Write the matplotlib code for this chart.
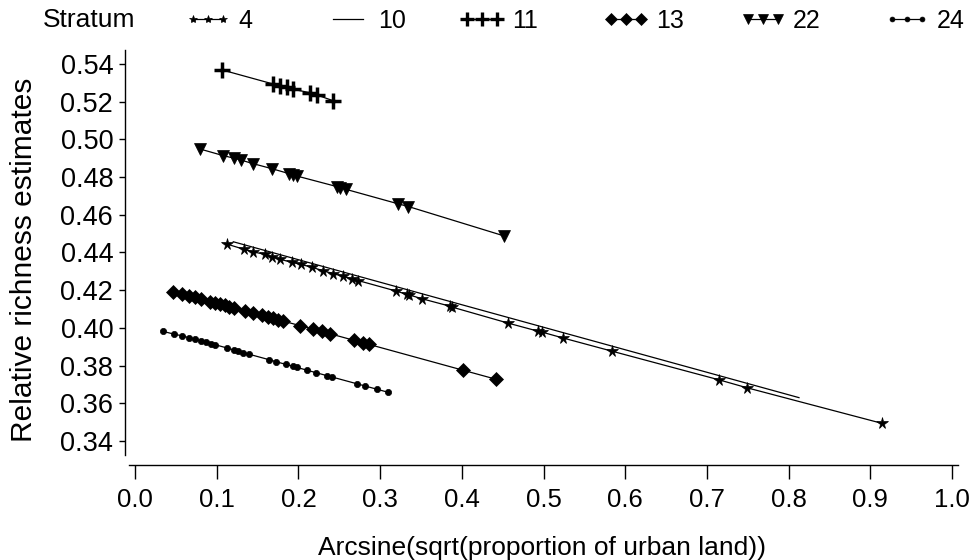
import matplotlib
matplotlib.use("Agg")
import matplotlib.pyplot as plt
from matplotlib.lines import Line2D

# ---------------- data ----------------
strata = ["4", "10", "11", "13", "22", "24"]

x4 = [0.1122, 0.1334, 0.1440, 0.1590, 0.1673, 0.1775, 0.1918, 0.2028, 0.2163,
      0.2297, 0.2427, 0.2550, 0.2652, 0.2733, 0.3191, 0.3325, 0.3357, 0.3509,
      0.3856, 0.3876, 0.4570, 0.4929, 0.4978, 0.5243, 0.5834, 0.7152, 0.7485,
      0.9139]
y4 = [0.4445, 0.4417, 0.4404, 0.4390, 0.4378, 0.4364, 0.4348, 0.4337, 0.4322,
      0.4304, 0.4288, 0.4273, 0.4260, 0.4251, 0.4196, 0.4178, 0.4175, 0.4155,
      0.4115, 0.4111, 0.4025, 0.3983, 0.3978, 0.3946, 0.3877, 0.3724, 0.3683,
      0.3494]

x10 = [0.1203, 0.8127]
y10 = [0.4457, 0.3630]

x11 = [0.107, 0.169, 0.1775, 0.1856, 0.193, 0.214, 0.2224, 0.2427]
y11 = [0.5368, 0.5294, 0.5283, 0.5276, 0.5266, 0.5248, 0.5236, 0.5205]

x13 = [0.0469, 0.0571, 0.0665, 0.0734, 0.0804, 0.0918, 0.0979, 0.1040, 0.1102,
       0.1154, 0.1212, 0.1346, 0.1440, 0.1550, 0.1632, 0.1693, 0.1754, 0.1815,
       0.2020, 0.2183, 0.2285, 0.2387, 0.2681, 0.2795, 0.2868, 0.4019, 0.4415]
y13 = [0.4193, 0.4181, 0.4170, 0.4162, 0.4154, 0.4140, 0.4134, 0.4127, 0.4120,
       0.4113, 0.4106, 0.4091, 0.4079, 0.4066, 0.4057, 0.4050, 0.4043, 0.4036,
       0.4012, 0.3993, 0.3981, 0.3969, 0.3934, 0.3921, 0.3912, 0.3775, 0.3728]

x22 = [0.0796, 0.108, 0.1216, 0.1293, 0.144, 0.1673, 0.1889, 0.1938, 0.1987,
       0.2468, 0.2509, 0.2583, 0.3223, 0.3345, 0.4517]
y22 = [0.4949, 0.4914, 0.4900, 0.4891, 0.4872, 0.4845, 0.4818, 0.4812, 0.4805,
       0.4750, 0.4744, 0.4735, 0.4658, 0.4644, 0.4488]

x24 = [0.0339, 0.0477, 0.0575, 0.0661, 0.0734, 0.0804, 0.0869, 0.0926, 0.0979,
       0.1122, 0.1216, 0.1265, 0.1326, 0.1399, 0.1644, 0.1726, 0.1848, 0.1938,
       0.1979, 0.2109, 0.2212, 0.2346, 0.2407, 0.2721, 0.2815, 0.2958, 0.3093]
y24 = [0.3982, 0.3967, 0.3958, 0.3948, 0.3940, 0.3932, 0.3924, 0.3917, 0.3911,
       0.3894, 0.3882, 0.3876, 0.3869, 0.3860, 0.3831, 0.3821, 0.3806, 0.3796,
       0.3791, 0.3775, 0.3763, 0.3747, 0.3740, 0.3703, 0.3692, 0.3675, 0.3659]

xticks = [0.0, 0.1, 0.2, 0.3, 0.4, 0.5, 0.6, 0.7, 0.8, 0.9, 1.0]
yticks = [0.34, 0.36, 0.38, 0.40, 0.42, 0.44, 0.46, 0.48, 0.50, 0.52, 0.54]

xlabel = "Arcsine(sqrt(proportion of urban land))"
ylabel = "Relative richness estimates"
legend_title = "Stratum"

# ---------------- styling ----------------
FONT = ["Liberation Sans", "DejaVu Sans"]
plt.rcParams["font.family"] = FONT

styles = {
    "4":  dict(marker="*", ms=8.5, mew=0.5),
    "10": dict(marker="None", ms=0, mew=0),
    "11": dict(marker="+", ms=11.5, mew=2.5),
    "13": dict(marker="D", ms=7.3, mew=0.5),
    "22": dict(marker="v", ms=8.5, mew=0.5),
    "24": dict(marker="o", ms=4.5, mew=0.5),
}
legend_ms = {"4": 6, "10": 0, "11": 10, "13": 6.5, "22": 7, "24": 3.5}
legend_mew = {"4": 0.5, "10": 0, "11": 2.4, "13": 0.5, "22": 0.5, "24": 0.5}
legend_x = {"4": 185, "10": 325, "11": 459, "13": 603, "22": 740, "24": 884}

fig = plt.figure(figsize=(9.73, 5.60), dpi=100)
W, H = 973, 560
ax = fig.add_axes([125 / W, 1 - 455 / H, (958 - 125) / W, (455 - 50) / H])

series = {"4": (x4, y4), "10": (x10, y10), "11": (x11, y11),
          "13": (x13, y13), "22": (x22, y22), "24": (x24, y24)}

for s in strata:
    xs, ys = series[s]
    st = styles[s]
    ax.plot(xs, ys, color="black", lw=0.9, zorder=2)
    if st["ms"]:
        ax.plot(xs, ys, ls="none", marker=st["marker"], ms=st["ms"],
                mew=st["mew"], mfc="black", mec="black", zorder=3)

    # legend entry, one per stratum, placed along the top row
    h = Line2D([], [], color="black", lw=0.9, marker=st["marker"],
               ms=legend_ms[s], mew=legend_mew[s], mfc="black", mec="black")
    fig.legend([h], [s], loc="center left",
               bbox_to_anchor=(legend_x[s] / W, 1 - 21 / H),
               frameon=False, numpoints=3, handlelength=1.8,
               handletextpad=0.32, borderaxespad=0, borderpad=0,
               prop={"size": 18})

ax.set_xlim(-0.01224, 1.00734)
ax.set_ylim(0.33257, 0.54743)

for side in ("top", "right"):
    ax.spines[side].set_visible(False)
ax.spines["left"].set_linewidth(1.0)
ax.spines["bottom"].set_linewidth(1.0)
ax.spines["bottom"].set_position(("outward", 7))
ax.spines["bottom"].set_bounds(-0.0073, 1.0073)

ax.set_xticks(xticks)
ax.set_xticklabels([f"{v:.1f}" for v in xticks], fontsize=18.5)
ax.set_yticks(yticks)
ax.set_yticklabels([f"{v:.2f}" for v in yticks], fontsize=19.5)
ax.tick_params(axis="x", direction="out", length=10, width=1.0, pad=7, colors="black")
ax.tick_params(axis="y", direction="out", length=4.5, width=1.0, pad=4, colors="black")

ax.set_xlabel(xlabel, fontsize=19, labelpad=17)
ax.set_ylabel(ylabel, fontsize=21.5)
ax.yaxis.set_label_coords(-0.1045, 0.481)

fig.text(43 / W, 1 - 20 / H, legend_title, fontsize=19, ha="left", va="center")

fig.savefig("out.png", dpi=100)
